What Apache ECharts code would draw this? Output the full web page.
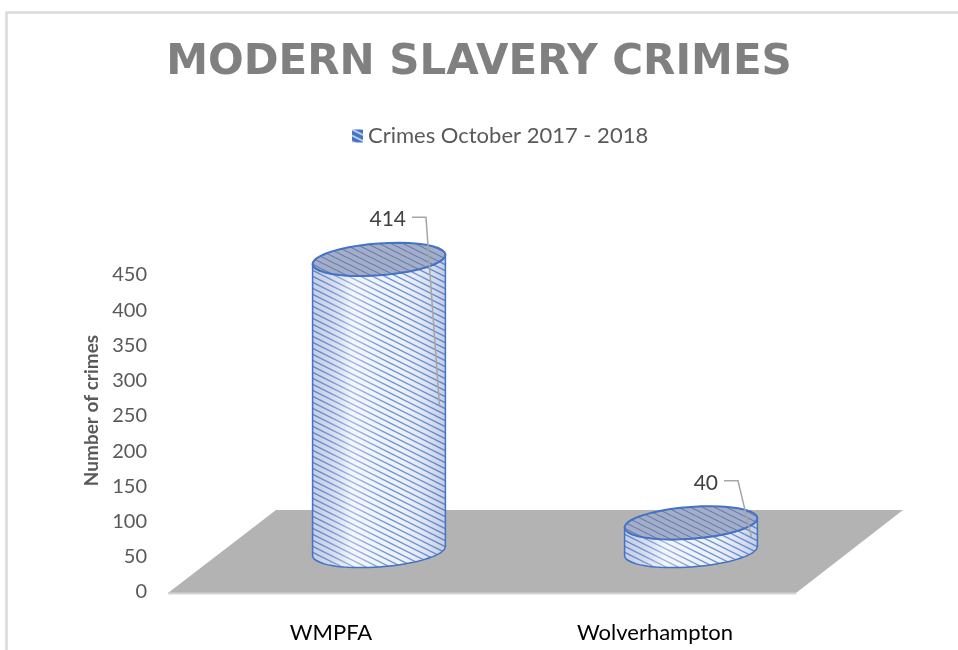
<!DOCTYPE html>
<html>
<head>
<meta charset="utf-8">
<title>Modern slavery crimes</title>
<style>
  html, body { margin: 0; padding: 0; background: #fff; }
  #chart { width: 958px; height: 650px; }
</style>
</head>
<body>
<div id="chart"></div>
<script src="https://cdn.jsdelivr.net/npm/echarts@6/dist/echarts.min.js"></script>
<script>
var titleText = 'MODERN SLAVERY CRIMES';
var seriesName = 'Crimes October 2017 - 2018';
var categories = ['WMPFA', 'Wolverhampton'];
var crimes = [414, 40];
var yTicks = [0, 450, 50]; // min, max, interval

// striped fill like the excel pattern
function stripes(bg, line, w) {
    var c = document.createElement('canvas');
    c.width = 12; c.height = 6;
    var ctx = c.getContext('2d');
    ctx.fillStyle = bg;
    ctx.fillRect(0, 0, 12, 6);
    ctx.strokeStyle = line;
    ctx.lineWidth = w;
    [-6, 0, 6].forEach(function (o) {
        ctx.beginPath();
        ctx.moveTo(0, o);
        ctx.lineTo(12, o + 6);
        ctx.stroke();
    });
    return { image: c, repeat: 'repeat' };
}
var sideFill = stripes('#eef2fb', 'rgba(68,114,196,0.75)', 1.4);
var topFill = stripes('#a3aecb', 'rgba(84,104,156,0.75)', 1.1);
var iconFill = stripes('#4472c4', '#ffffff', 1.2);

var SHEAR = -0.07;
function arc(cx, cy, rx, ry, t0, t1) {
    var pts = [], n = 40;
    for (var i = 0; i <= n; i++) {
        var t = t0 + (t1 - t0) * i / n;
        var px = cx + rx * Math.cos(t);
        pts.push([px, cy + ry * Math.sin(t) + SHEAR * (px - cx)]);
    }
    return pts;
}

function renderFloor(params, api) {
    var cs = params.coordSys;
    var y0 = cs.y + cs.height;
    var pts = [
        [cs.x - 1, y0 + 1], [cs.x + cs.width - 21, y0 + 1],
        [cs.x + cs.width + 86, y0 - 82], [cs.x + 107, y0 - 82]
    ];
    return {
        type: 'group',
        children: [{
            type: 'polygon',
            shape: { points: pts },
            style: { fill: '#b3b3b3' }
        }, {
            type: 'line',
            shape: { x1: pts[0][0], y1: y0 + 1.5, x2: pts[1][0], y2: y0 + 1.5 },
            style: { stroke: '#d4d4d4', lineWidth: 2 }
        }]
    };
}

function renderCylinder(params, api) {
    var cs = params.coordSys;
    var top = api.coord([api.value(0), api.value(1)]);
    var base = api.coord([api.value(0), 0]);
    var band = api.size([1, 0])[0];
    var mid = cs.x + cs.width / 2;
    var cx = mid + (base[0] - mid) * 0.963 + 42;
    var rx = band * 0.205, ry = rx * 0.24;
    var yb = base[1] - 41, yt = top[1] - 41;

    var body = arc(cx, yb, rx, ry, 0, Math.PI).concat(arc(cx, yt, rx, ry, Math.PI, 0));
    var lid = arc(cx, yt, rx, ry, 0, Math.PI * 2);
    var ly = yt - 40;
    return {
        type: 'group',
        children: [{
            type: 'polygon',
            shape: { points: body },
            style: { fill: sideFill }
        }, {
            type: 'polygon',
            shape: { points: body },
            style: {
                fill: new echarts.graphic.LinearGradient(0, 0, 1, 0, [
                    { offset: 0, color: 'rgba(40,70,150,0.2)' },
                    { offset: 0.3, color: 'rgba(255,255,255,0.35)' },
                    { offset: 0.6, color: 'rgba(255,255,255,0)' },
                    { offset: 1, color: 'rgba(30,60,140,0.22)' }
                ]),
                stroke: '#4472c4',
                lineWidth: 1.5
            }
        }, {
            type: 'polygon',
            shape: { points: lid },
            style: { fill: topFill, stroke: '#4472c4', lineWidth: 2 }
        }, {
            type: 'polyline',
            shape: { points: [[cx + 33, ly - 2], [cx + 47, ly - 2], [cx + rx * 0.91, (yt + yb) / 2]] },
            style: { stroke: '#a6a6a6', lineWidth: 1.5, fill: null }
        }, {
            type: 'text',
            style: {
                text: String(api.value(1)),
                x: cx + 27, y: ly,
                align: 'right', verticalAlign: 'middle',
                fill: '#404040',
                font: '21px Lato'
            }
        }]
    };
}

var chart = echarts.init(document.getElementById('chart'));
chart.setOption({
    animation: false,
    title: {
        text: titleText,
        left: 'center',
        top: 37,
        textStyle: {
            color: '#808080',
            fontFamily: 'DejaVu Sans',
            fontWeight: 'bold',
            fontSize: 42
        }
    },
    legend: {
        left: 347,
        top: 120,
        itemWidth: 11,
        itemHeight: 13,
        textStyle: { color: '#595959', fontFamily: 'Lato', fontSize: 22 },
        data: [{ name: seriesName, icon: 'rect', itemStyle: { color: iconFill } }]
    },
    graphic: [{
        type: 'rect',
        silent: true,
        shape: { x: 6.5, y: 12.5, width: 1000, height: 700 },
        style: { fill: 'none', stroke: '#dadada', lineWidth: 2.5 }
    }],
    grid: { left: 169, right: 141, top: 275, bottom: 58 },
    xAxis: {
        type: 'category',
        data: categories,
        axisLine: { show: false },
        axisTick: { show: false },
        axisLabel: { margin: 30, color: '#000', fontFamily: 'Lato', fontSize: 22 }
    },
    yAxis: {
        type: 'value',
        min: yTicks[0],
        max: yTicks[1],
        interval: yTicks[2],
        name: 'Number of crimes',
        nameLocation: 'middle',
        nameGap: 68,
        nameTextStyle: {
            color: '#595959', fontFamily: 'Lato', fontWeight: 'bold', fontSize: 19,
            padding: [0, 0, 0, 46]
        },
        axisLine: { show: false },
        axisTick: { show: false },
        splitLine: { show: false },
        axisLabel: { margin: 22, color: '#595959', fontFamily: 'Lato', fontSize: 20 }
    },
    series: [{
        type: 'custom',
        name: 'floor',
        silent: true,
        renderItem: renderFloor,
        data: [[0, 0]],
        z: 1
    }, {
        type: 'custom',
        name: seriesName,
        renderItem: renderCylinder,
        itemStyle: { color: '#4472c4' },
        encode: { x: 0, y: 1 },
        data: categories.map(function (c, i) { return [i, crimes[i]]; }),
        z: 2
    }]
});
</script>
</body>
</html>
